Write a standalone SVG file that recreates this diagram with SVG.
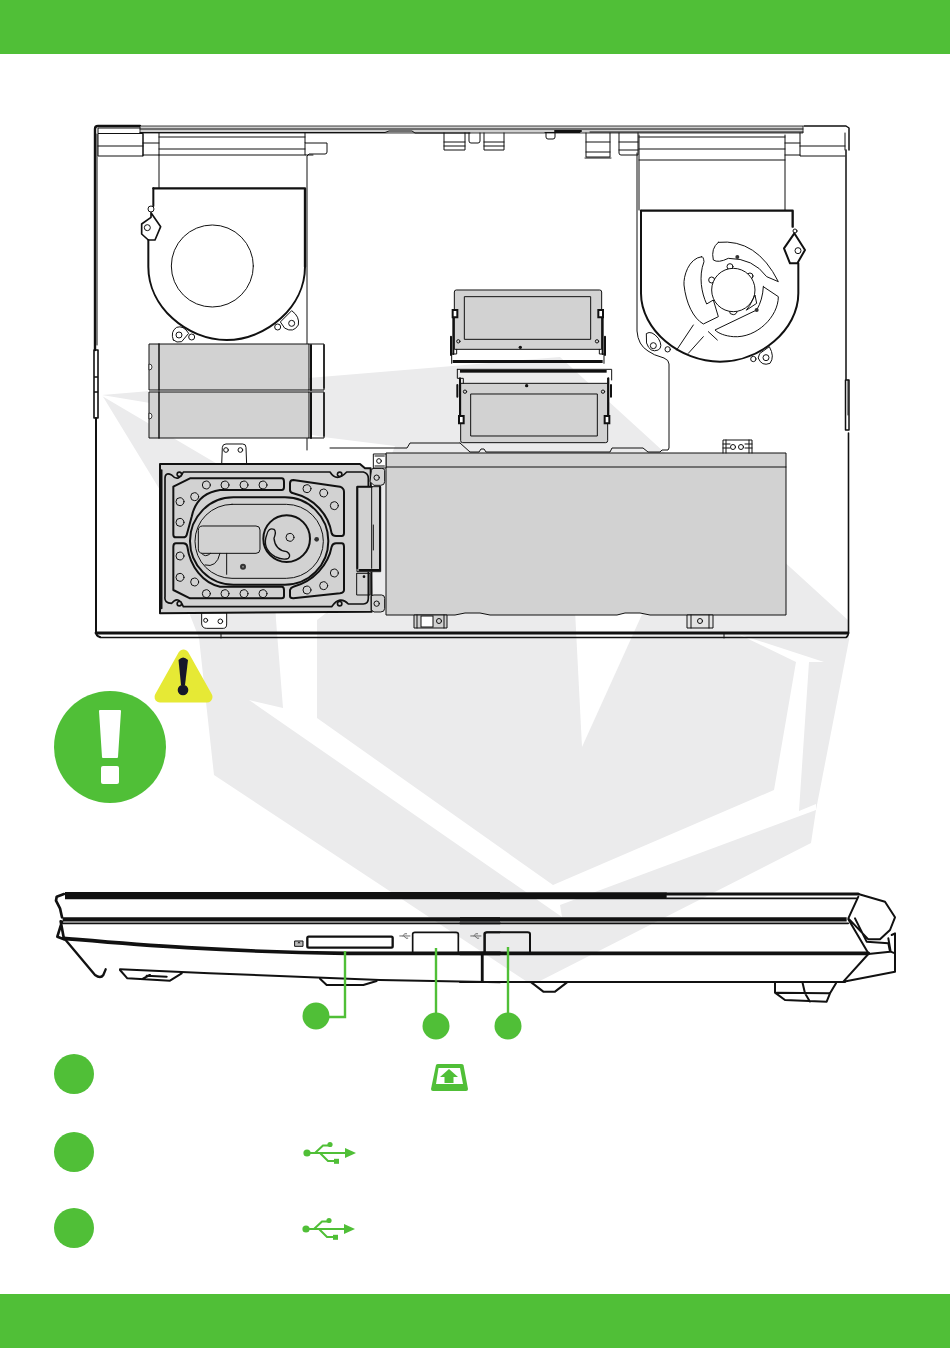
<svg xmlns="http://www.w3.org/2000/svg" xmlns:xlink="http://www.w3.org/1999/xlink" width="950" height="1348" viewBox="0 0 950 1348">
<style>
.l{fill:none;stroke:#111;stroke-width:1;stroke-linejoin:round;stroke-linecap:round}
.t{fill:none;stroke:#111;stroke-width:2;stroke-linejoin:round;stroke-linecap:round}
.k{fill:none;stroke:#111;stroke-width:3.2;stroke-linejoin:round;stroke-linecap:round}
.p{fill:#d2d2d2;stroke:#111;stroke-width:1;stroke-linejoin:round}
.w{fill:#fff;stroke:#111;stroke-width:1}
.z .l{stroke-width:3}.z .t{stroke-width:6}.z .k{stroke-width:9}.z .p{stroke-width:3}.z .w{stroke-width:3}
.g{fill:#50bf37}
.gl{fill:none;stroke:#50bf37;stroke-width:2}
</style>
<defs>
<g id="usb">
<circle cx="307" cy="1153" r="3.6" class="g"/>
<path d="M307 1153H347" class="gl"/>
<path d="M345 1148L356 1153L345 1158Z" class="g"/>
<path d="M315 1153L323 1145.500H328M320 1153L328 1161H335" class="gl"/>
<circle cx="330" cy="1144.500" r="2.600" class="g"/>
<rect x="334" y="1158.800" width="5" height="5" class="g"/>
</g>
<g id="mini">
<path d="M0 3H10M3 3L5 1H7M4 3L6 5H8" fill="none" stroke="#555" stroke-width=".8"/>
</g>
</defs>

<g id="watermark">
<path fill="#ebebec" d="M102 395L560 357L849 621V640L816 810L811 843L532 985L214 775L199 638L190 615L160 490Z"/>
<path fill="#fff" d="M102 395L150 403L323 437L395 446L330 610L317 620V718L553 885L774 790L796 662L738 634L824 662H809L799 811L816 804V810L560 905L562 917L249 700L283 708L276 620L270 495L102 396Z"/>
<path fill="#fff" d="M575 610L582 747L644 610Z"/>
</g>

<g id="header"><rect width="950" height="54" class="g"/></g>
<g id="footer"><rect y="1294" width="950" height="54" class="g"/></g>

<g id="chassis">
<path class="t" style="stroke-width:2.400" d="M95 350V129Q95 126 98 126H140"/>
<path class="t" style="stroke-width:1.600" d="M94 350H98V377H94ZM94 377H98V392H94ZM94 392H98V418H94Z"/>
<path class="l" d="M97 345V134"/>
<path class="t" d="M96 418V632Q96 636 100 637"/>
<path class="t" style="stroke-width:2.800" d="M96 633H848"/>
<path class="t" style="stroke-width:1.600" d="M100 637.500H846Q848.500 636 848.500 632V433"/>
<path class="l" d="M848 415V380M221 634V638M724 634V638"/>
<path class="t" style="stroke-width:1.500" d="M849 380H845.500V430H849ZM846 150V380M849 150V128L846 126H804"/>
<path fill="#cfcfcf" stroke="#111" stroke-width=".8" d="M140 126H803V133H140Z"/>
<path class="l" d="M140 129H803M140 132.500H385L389 131H412L415 133H470M545 132.500H580M590 132H803"/>
<path class="t" d="M555 131H581"/>
<path class="w" stroke-width=".8" d="M98 133.500H143V156H98Z"/>
<path class="l" d="M98 146H143M143 133V156M143 143H159M143 155H159M800 133V156H845M800 146H845M98 133L98 128H140M845 133V150"/>
<path class="l" d="M159 133V188M159 137H305M159 149H305M159 155H305"/>
<path class="l" d="M305 133V143H327V152Q327 154 325 154H309L307 156V345M305 143V155H313"/>
<path class="l" d="M307 438V450M330 448H407L410 443H460"/>
<path class="l" d="M444 133V150H465V133M444 142H465M444 146H465M484 133V150H504V133M484 142H504M484 146H504M469 133V141Q469 143 471 143H478Q480 143 480 141V133"/>
<path class="l" d="M546 133V137Q546 139 548 139H553Q555 139 555 137V133"/>
<path class="l" d="M586 133V157H610V133M586 142H610M586 152H610M585 158H611M619 133V153Q619 155 621 155H638V133M619 142H638M619 150H638"/>
<path class="l" d="M637 153V331Q638 345 648 351Q653 355 664 358Q669 360 669 364V448L668 450H662L660 452H648L643 448H612L610 452H486L484 449H481L479 452H470L460 443"/>
<path class="l" d="M639 135V210M639 137H785M639 149H785M639 160H785M785 135V210M785 143H800M785 155H800"/>
</g>

<g id="fan-left" class="z" transform="translate(90 120) scale(.33333)">
<path class="k" style="stroke-width:7" d="M190 205H645V440"/>
<path class="t" d="M190 205V258M175 360V440C175 560 290 660 410 660C530 660 645 560 645 440"/>
<path class="t" style="stroke-width:5" fill="#fff" d="M183 278L212 320L195 360H175L155 342V312L183 292Z"/>
<circle class="w" cx="183" cy="267" r="9"/>
<circle class="w" cx="172" cy="323" r="9"/>
<path class="l" fill="#fff" d="M250 660Q240 635 260 622Q280 615 296 640L275 665Q260 670 250 660Z"/>
<path class="l" fill="#fff" d="M572 605L605 572Q630 590 625 615Q610 640 585 625Z"/>
<circle class="w" cx="267" cy="645" r="9"/>
<circle class="w" cx="305" cy="651" r="9"/>
<circle class="w" cx="605" cy="610" r="9"/>
<circle class="w" cx="563" cy="621" r="9"/>
<circle class="l" cx="367" cy="438" r="123"/>
</g>

<g id="fan-right" class="z" transform="translate(480 120) scale(.33333)">
<path class="k" style="stroke-width:7" d="M483 272H938V320"/>
<path class="t" d="M483 272V520C483 630 600 725 720 725C840 725 955 630 955 520V430M953 430H930L912 385L943 340L975 390L953 428"/>
<circle class="w" cx="954" cy="392" r="9"/>
<circle class="l" cx="945" cy="333" r="6"/>
<path class="l" d="M500 640Q515 630 535 655Q550 680 535 690Q510 700 500 670Z"/>
<circle class="w" cx="520" cy="677" r="9"/>
<circle class="l" cx="563" cy="688" r="8"/>
<path class="l" fill="#fff" d="M840 700L868 680Q885 710 870 730Q845 740 835 715Z"/>
<circle class="w" cx="858" cy="713" r="9"/>
<circle class="l" cx="820" cy="717" r="8"/>
<path class="l" d="M715 367Q830 355 895 485L860 470Q820 415 745 415Q715 430 700 420Q692 385 715 367Z"/>
<path class="l" d="M665 410C625 415 610 470 612 495C618 550 640 595 670 612L715 590L700 540L680 552C665 520 655 470 672 425Q670 408 665 410Z"/>
<path class="l" d="M850 500L895 530C895 590 830 655 760 650C735 648 715 640 705 630L830 570Q848 540 850 500Z"/>
<circle class="l" cx="750" cy="440" r="9"/>
<circle class="l" cx="695" cy="480" r="9"/>
<circle class="l" cx="810" cy="468" r="9"/>
<circle class="l" cx="760" cy="572" r="12"/>
<circle class="w" cx="760" cy="510" r="65"/>
<path class="l" d="M810 555L825 525L830 550L800 570Z"/>
<circle cx="772" cy="411" r="6" fill="#333"/>
<circle cx="830" cy="570" r="6" fill="#333"/>
<path class="l" d="M640 615L590 690M670 650L625 700M685 635L712 660"/>
</g>

<g id="ssd-1">
<rect class="p" x="149" y="344" width="160" height="46"/>
<path class="l" style="stroke-width:1.500" d="M159 344V390"/>
<path d="M149 364A3 3 0 0 1 149 370Z" fill="#fff" stroke="#111" stroke-width=".8"/>
<path class="l" d="M309 344H324V390H309"/>
<path class="t" d="M311 345V390"/>
<path class="t" style="stroke-width:1.500" d="M324 345V388"/>
</g>
<g id="ssd-2">
<rect class="p" x="149" y="392" width="160" height="46"/>
<path class="l" style="stroke-width:1.500" d="M159 392V438"/>
<path d="M149 413A3 3 0 0 1 149 419Z" fill="#fff" stroke="#111" stroke-width=".8"/>
<path class="l" d="M309 392H324V438H309"/>
<path class="t" d="M311 393V438"/>
<path class="t" style="stroke-width:1.500" d="M324 393V436"/>
</g>

<g id="ram-1" class="z" transform="translate(440 280) scale(.33333)">
<path class="p" d="M43 36Q43 30 49 30H479Q485 30 485 36V208H43Z"/>
<rect class="p" x="73" y="50" width="379" height="128"/>
<path class="l" d="M50 208V222H35V250M478 208V222H492V250"/>
<path class="k" style="stroke-width:6" d="M40 110V222M33 170V225M488 110V222M495 170V225"/>
<path class="w" style="stroke-width:6" d="M38 90H52V112H38ZM475 90H489V112H475Z"/>
<rect x="38" y="240" width="450" height="9" fill="#111"/>
<circle class="l" cx="55" cy="184" r="5"/><circle class="l" cx="471" cy="184" r="5"/>
<circle cx="241" cy="202" r="5" fill="#111"/>
</g>
<g id="ram-2" class="z" transform="translate(440 280) scale(.33333)">
<path class="p" d="M62 310H503V482Q503 488 497 488H68Q62 488 62 482Z"/>
<rect class="p" x="92" y="342" width="380" height="126"/>
<path class="l" d="M52 268H515V300M52 268V295H70V310M503 295V310"/>
<path class="k" style="stroke-width:6" d="M60 295V420M52 315V350M505 295V420M513 315V350"/>
<path class="w" style="stroke-width:6" d="M57 408H71V430H57ZM494 408H508V430H494Z"/>
<rect x="60" y="270" width="440" height="8" fill="#111"/>
<circle class="l" cx="75" cy="335" r="5"/><circle class="l" cx="489" cy="335" r="5"/>
<circle cx="260" cy="317" r="5" fill="#111"/>
</g>

<g id="battery">
<path class="p" d="M386 453H786V615H650L640 613H625L617 615H490L480 613H465L455 615H386Z"/>
<path class="l" d="M386 467H786"/>
<path class="l" d="M723 453V440H752V453M726 440V453M749 440V453M723 444H730M745 444H752M723 448H730M745 448H752"/>
<circle class="l" cx="733" cy="447" r="2.500"/><circle class="l" cx="741" cy="447" r="2.500"/>
<path class="p" d="M414 615H447V628H414Z"/>
<rect class="w" x="421" y="616" width="12" height="11"/>
<circle class="l" cx="439" cy="621" r="2.500"/>
<path class="l" d="M417 615V628M444 615V628"/>
<path class="p" style="fill:#e4e4e4" d="M687 615H713V628H687Z"/>
<circle class="l" cx="700" cy="621" r="2.500"/>
<path class="l" d="M691 615V628M709 615V628"/>
</g>

<g id="hdd" class="z" transform="translate(150 440) scale(.33333)">
<path class="w" d="M215 75L217 22Q218 12 228 12H278Q288 12 288 22L290 75Z"/>
<circle class="l" cx="228" cy="30" r="7"/><circle class="l" cx="271" cy="30" r="7"/>
<path class="w" d="M155 518V552Q157 565 170 565H220Q230 565 230 552V518Z"/>
<circle class="l" cx="167" cy="541" r="6"/><circle class="l" cx="211" cy="544" r="7"/>
<path class="p" style="stroke-width:6" d="M30 72H630L645 85L662 85L665 515L30 520Z"/>
<path class="k" style="stroke-width:5" d="M35 90V505M65 105Q85 128 100 96H540Q560 128 590 96H640Q655 100 655 115V475Q655 492 640 492H595Q570 465 545 500H100Q85 465 65 490Q42 490 45 470V115Q45 95 65 105Z"/>
<circle cx="88" cy="103" r="9" fill="#111"/><circle cx="88" cy="103" r="4" fill="#d2d2d2"/>
<circle cx="569" cy="103" r="9" fill="#111"/><circle cx="569" cy="103" r="4" fill="#d2d2d2"/>
<circle cx="88" cy="491" r="9" fill="#111"/><circle cx="88" cy="491" r="4" fill="#d2d2d2"/>
<circle cx="569" cy="491" r="9" fill="#111"/><circle cx="569" cy="491" r="4" fill="#d2d2d2"/>
<path class="k" style="stroke-width:6" d="M70 140L120 115H395Q402 115 402 125V142Q402 150 395 150H210Q140 160 125 230L110 285Q108 292 100 292H78Q70 292 70 284Z"/>
<path class="k" style="stroke-width:6" d="M420 130Q420 120 430 120L570 140Q582 145 582 155V280Q582 288 575 288H558Q548 288 545 280C535 220 490 175 430 160Q420 158 420 150Z"/>
<path class="k" style="stroke-width:6" d="M70 320Q70 310 78 310H100Q110 310 112 320C120 380 160 430 210 440H395Q402 440 402 450V468Q402 475 395 475H120L70 450Z"/>
<path class="k" style="stroke-width:6" d="M420 450Q422 442 430 440C490 425 535 375 545 320Q548 310 558 310H575Q582 310 582 320V450Q582 458 570 460L430 475Q420 475 420 468Z"/>
<rect class="k" style="stroke-width:6" x="120" y="172" width="415" height="262" rx="130" ry="131"/>
<rect class="l" x="135" y="193" width="385" height="222" rx="111"/>
<path class="l" style="fill:#d2d2d2" d="M145 270Q145 258 158 258H318Q330 258 330 270V328Q330 340 318 340H158Q145 340 145 328Z"/>
<path class="l" d="M230 340V403M155 340Q165 355 182 340M210 340Q200 385 165 375"/>
<circle cx="279" cy="380" r="9" fill="#333"/><circle cx="279" cy="380" r="3" fill="#888"/>
<circle class="k" style="stroke-width:6" cx="410" cy="296" r="70"/>
<path class="l" style="stroke-width:4" d="M350 285Q355 262 372 268Q380 275 372 295Q375 330 410 335Q425 345 415 355Q400 362 375 350Q335 325 350 285Z"/>
<circle class="l" cx="420" cy="292" r="12"/>
<circle cx="500" cy="298" r="7" fill="#333"/>
<g>
<circle class="l" cx="169" cy="135" r="12"/><circle class="l" cx="225" cy="135" r="12"/><circle class="l" cx="282" cy="135" r="12"/><circle class="l" cx="339" cy="135" r="12"/>
<circle class="l" cx="134" cy="170" r="12"/><circle class="l" cx="90" cy="185" r="12"/><circle class="l" cx="90" cy="247" r="12"/>
<circle class="l" cx="471" cy="146" r="12"/><circle class="l" cx="521" cy="159" r="12"/><circle class="l" cx="553" cy="197" r="12"/>
<circle class="l" cx="90" cy="348" r="12"/><circle class="l" cx="90" cy="412" r="12"/><circle class="l" cx="134" cy="426" r="12"/>
<circle class="l" cx="169" cy="461" r="12"/><circle class="l" cx="225" cy="461" r="12"/><circle class="l" cx="282" cy="461" r="12"/><circle class="l" cx="339" cy="461" r="12"/>
<circle class="l" cx="471" cy="450" r="12"/><circle class="l" cx="521" cy="437" r="12"/><circle class="l" cx="553" cy="399" r="12"/>
</g>
<path class="l" style="fill:#d2d2d2" d="M622 140H692V395H622Z"/>
<path class="k" style="stroke-width:6" d="M622 140V385M690 140V390H628M622 140H665"/>
<path class="l" d="M665 140V385M670 255V330M622 400H660V465H620V400"/>
<circle cx="642" cy="410" r="4" fill="#111"/>
<path class="p" d="M664 92Q664 85 672 85H695Q704 85 704 92V125Q704 136 692 136H672L660 125Z"/>
<path class="p" d="M664 470Q664 465 672 465H695Q704 465 704 475V505Q704 516 692 516H672L664 510Z"/>
<circle class="l" cx="680" cy="113" r="8"/><circle class="l" cx="680" cy="491" r="8"/>
<path class="w" d="M670 42H708V84H670Z"/>
<circle class="l" cx="687" cy="63" r="7"/>
<path class="l" d="M675 48H703M675 78H703"/>
</g>

<g id="warning">
<path d="M183.500 655L160 697H207Z" fill="#e6e935" stroke="#e6e935" stroke-width="11" stroke-linejoin="round"/>
<path d="M178.500 660Q183 655 188 660L185 685H181Z" fill="#17172a"/>
<circle cx="183" cy="690" r="5.300" fill="#17172a"/>
</g>
<g id="notice">
<circle cx="110" cy="747" r="56" class="g"/>
<path d="M100 710H120Q121 710 121 711L118 757Q118 758 117 758H103Q102 758 102 757L99 711Q99 710 100 710Z" fill="#fff"/>
<rect x="101" y="766" width="18" height="18" rx="2" fill="#fff"/>
</g>

<g id="laptop" class="z" transform="translate(40 880) scale(.33333)">
<path class="k" style="stroke-width:22;stroke-linecap:butt" d="M75 47H1380"/>
<path class="t" style="stroke-width:8" d="M72 42L50 50L48 62L60 85L66 112"/>
<path class="t" style="stroke-width:8" d="M66 125L52 170L72 178L62 124"/>
<path class="k" style="stroke-width:13;stroke-linecap:butt" d="M68 118H1380"/>
<path class="l" style="stroke-width:5" d="M68 130H1380"/>
<path class="k" style="stroke-width:11" d="M72 175C250 190 520 215 920 220H1380"/>
<path class="t" style="stroke-width:7" d="M75 178L165 285Q182 297 190 285L197 268"/>
<path class="t" style="stroke-width:6" d="M240 268C500 280 800 290 1020 300L1380 307"/>
<path class="t" style="stroke-width:6" d="M240 270L262 295L390 302L425 280M320 287L380 290M330 285L310 295M840 296L860 315H970L1010 303"/>
<rect x="802" y="170" width="256" height="33" rx="4" class="t" style="stroke-width:7;fill:#fff"/>
<rect class="l" style="fill:#bbb" x="765" y="183" width="24" height="16"/>
<path d="M772 190L777 185L782 190H772Z" fill="#111"/>
<path class="t" style="stroke-width:5" d="M1118 217V162Q1118 157 1125 157H1248Q1255 157 1255 162V217"/>
<path class="t" style="stroke-width:5" d="M1335 217V162Q1335 157 1342 157H1380M1325 225V305"/>
<use xlink:href="#mini" transform="translate(1078 158) scale(3.300)"/>
<use xlink:href="#mini" transform="translate(1291 158) scale(3.300)"/>
</g>

<g id="laptop-r" class="z" transform="translate(480 880) scale(.33333)">
<path class="k" style="stroke-width:21;stroke-linecap:butt" d="M-60 47H560"/>
<path class="k" style="stroke-width:9" d="M560 42H1135"/>
<path class="l" style="stroke-width:5" d="M560 55H1130"/>
<path class="k" style="stroke-width:13;stroke-linecap:butt" d="M-60 118H1100"/>
<path class="l" style="stroke-width:5" d="M-60 130H1105"/>
<path class="k" style="stroke-width:11" d="M-60 220H1165"/>
<path class="t" style="stroke-width:6" d="M-60 306H1095"/>
<path class="t" d="M1135 42L1215 65L1245 112L1230 150L1200 178H1165L1105 115L1135 50M1105 118L1165 220M1125 115L1160 185L1225 190L1230 215L1165 222L1090 305M1235 165L1245 160V275L1090 305M1225 175L1232 215L1245 220"/>
<path class="t" style="stroke-width:6" d="M13 217V162Q13 157 20 157H143Q150 157 150 162V217M8 225V305"/>
<path class="t" style="stroke-width:6" d="M155 308L190 335H225L260 308M885 310V338L915 360L1040 365L1050 340L1068 310M890 338L1048 340M968 310L975 340L990 365"/>
</g>

<g id="connectors">
<path d="M345 951V1017H318" fill="none" stroke="#50bf37" stroke-width="2.400"/>
<path d="M436 948V1020M508 947V1020" fill="none" stroke="#50bf37" stroke-width="2.400"/>
</g>

<g id="callout-1"><circle cx="316" cy="1016" r="13.500" class="g"/></g>
<g id="callout-2"><circle cx="436" cy="1026" r="13.500" class="g"/></g>
<g id="callout-3"><circle cx="508" cy="1026" r="13.500" class="g"/></g>
<g id="badge-1"><circle cx="74" cy="1074" r="20" class="g"/></g>
<g id="badge-2"><circle cx="74" cy="1152" r="20" class="g"/></g>
<g id="badge-3"><circle cx="74" cy="1228" r="20" class="g"/></g>

<g id="icon-sd">
<path d="M436 1065Q436.500 1064 438 1064H461Q463 1064 463.500 1065L468 1089Q468 1091 466 1091H433Q431 1091 431 1089Z" class="g"/>
<path d="M438.500 1068H460L463 1084H436Z" fill="#fff"/>
<path d="M449 1069L458 1077H453.500V1083H444.500V1077H440Z" class="g"/>
</g>
<g id="icon-usb-1"><use xlink:href="#usb"/></g>
<g id="icon-usb-2"><use xlink:href="#usb" transform="translate(-1 76)"/></g>
</svg>
